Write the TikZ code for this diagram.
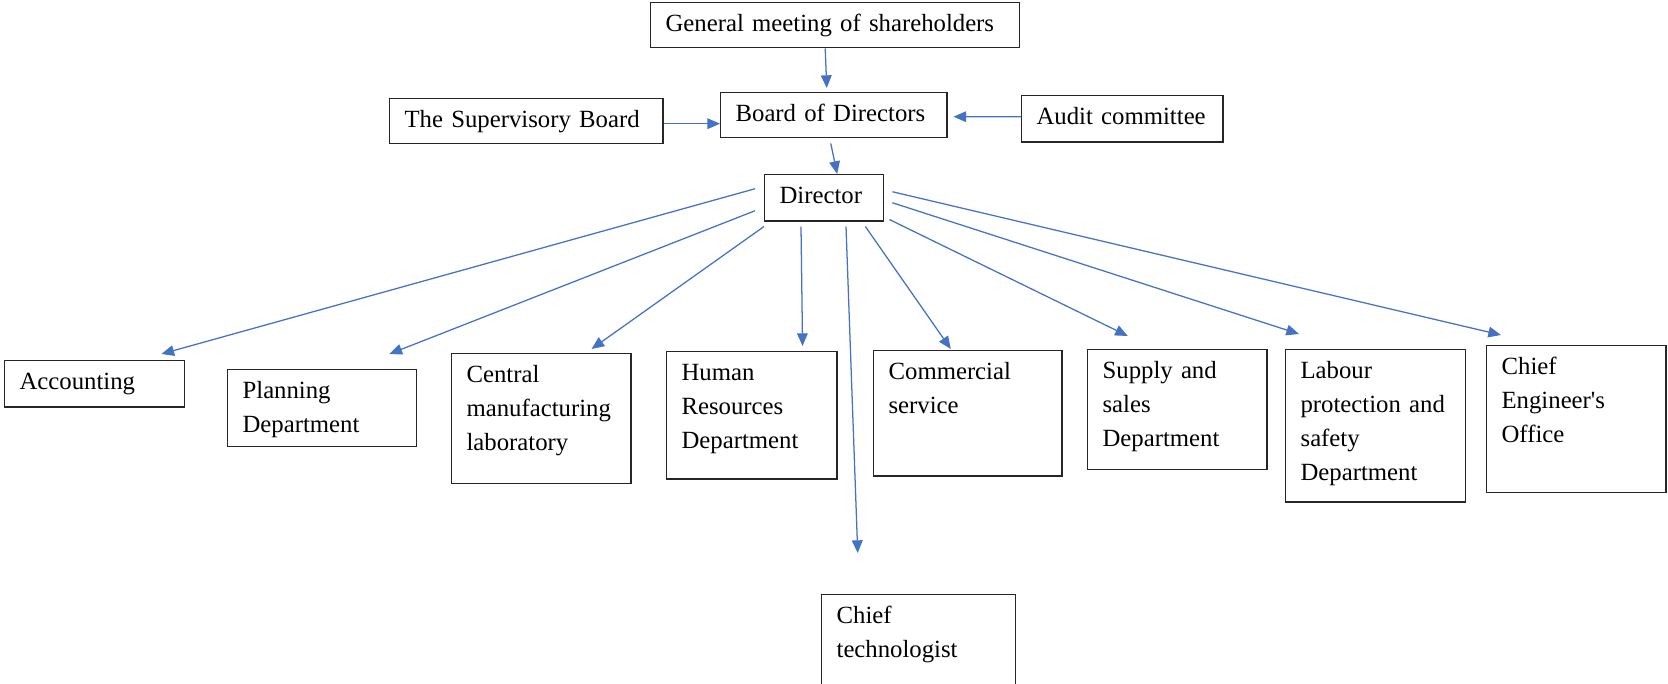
\documentclass[tikz,border=0pt]{standalone}
\usepackage{fontspec}
\setmainfont{Liberation Serif}
\usetikzlibrary{arrows.meta, calc}

\definecolor{linkblue}{HTML}{4472C4}

\begin{document}
\begin{tikzpicture}[
    x=0.0125cm, y=-0.0125cm,
    >={Triangle[length=4.5pt, width=3.8pt]},
    every node/.style={font=\fontsize{8.8}{12.1}\selectfont},
    unit/.style={
        draw=black!85, line width=0.5pt, anchor=north west, align=left,
        inner xsep=5.3pt, inner ysep=0pt, text height=10.3pt
    },
    link/.style={->, linkblue, line width=0.45pt},
]
\useasboundingbox (0,0) rectangle (1668,684);

% =====================================================================
%  TOP:  governing bodies
% =====================================================================
\node[unit, text width=120.6pt, text depth=5.7pt] (gm) at (650,2)
    {General meeting of shareholders};
\node[unit, text width=69.8pt, text depth=5.7pt] (bod) at (720,92)
    {Board of Directors};
\node[unit, text width=86.5pt, text depth=5.7pt] (sup) at (389,98)
    {The Supervisory Board};
\node[unit, text width=60.9pt, text depth=6.1pt] (audit) at (1021,95)
    {Audit committee};
\node[unit, text width=31.7pt, text depth=6.1pt] (dir) at (764,174)
    {Director};

\draw[link] ($(gm.south)+(-10,0)$) -- ($(bod.north)+(-7,-4)$);
\draw[link] ($(sup.east)+(0,2.5)$) -- ($(bod.west)+(0,8.5)$);
\draw[link] ($(audit.west)+(0,-2)$) -- ($(bod.east)+(6,1.5)$);
\draw[link] ($(bod.south)+(-3,5)$) -- ($(dir.north)+(13,0)$);

% =====================================================================
%  BOTTOM:  departments under the director
% =====================================================================
\node[unit, text width=53.4pt, text depth=6.1pt] (acc) at (4,360)
    {Accounting};
\node[unit, text width=56.6pt, text depth=17.1pt] (plan) at (227,369)
    {Planning\\Department};
\node[unit, text width=53.1pt, text depth=35.9pt] (lab) at (451,353)
    {Central\\manufacturing\\laboratory};
\node[unit, text width=49.9pt, text depth=34.9pt] (hr) at (666,351)
    {Human\\Resources\\Department};
\node[unit, text width=56.3pt, text depth=34.2pt] (comm) at (873,350)
    {Commercial\\service};
\node[unit, text width=53.1pt, text depth=32.4pt] (supply) at (1087,349)
    {Supply and\\sales\\Department};
\node[unit, text width=53.4pt, text depth=43.8pt] (safety) at (1285,349)
    {Labour\\protection and\\safety\\Department};
\node[unit, text width=53.1pt, text depth=42.0pt] (eng) at (1486,345)
    {Chief\\Engineer\textquotesingle s\\Office};
\node[unit, text width=58.4pt, text depth=21.7pt] (tech) at (821,594)
    {Chief\\technologist};

% Fan of arrows from the director
\draw[link] ($(dir.west)+(-9,-9)$)          -- ($(acc.north east)+(-24,-6)$);
\draw[link] ($(dir.west)+(-9,13)$)          -- ($(plan.north east)+(-28,-15)$);
\draw[link] ($(dir.south west)+(0,5)$)      -- ($(lab.north east)+(-40,-4)$);
\draw[link] ($(dir.south west)+(37,5)$)     -- ($(hr.north east)+(-35,-5)$);
\draw[link] ($(dir.south west)+(82,5)$)     -- ($(tech.north)+(-61,-41)$);
\draw[link] ($(dir.south east)+(-19,5)$)    -- ($(comm.north)+(-17,-1)$);
\draw[link] ($(dir.south east)+(5,-2)$)     -- ($(supply.north)+(-49.5,-13)$);
\draw[link] ($(dir.east)+(8,5)$)            -- ($(safety.north west)+(14,-15)$);
\draw[link] ($(dir.east)+(8,-6)$)           -- ($(eng.north west)+(15,-10)$);

\end{tikzpicture}
\end{document}
